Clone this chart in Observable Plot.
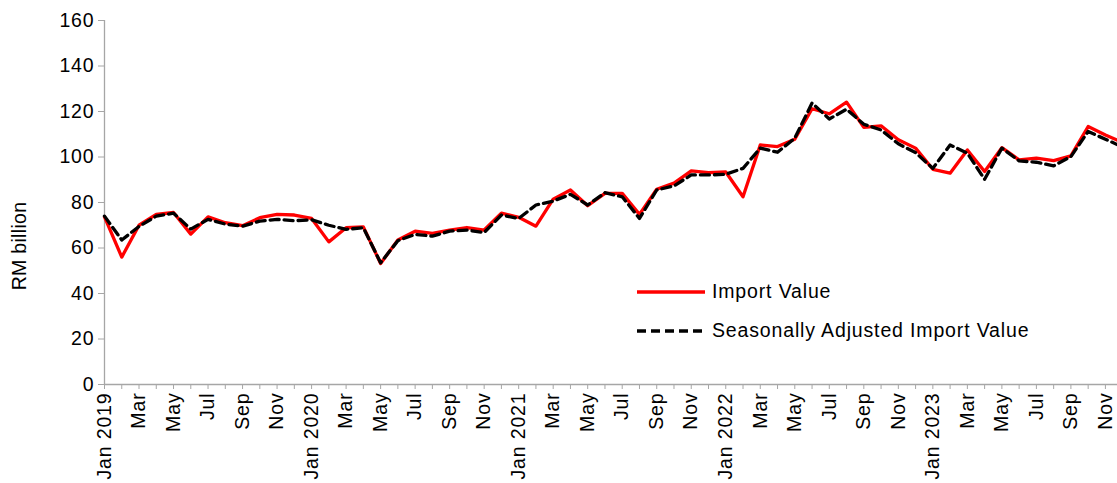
<!DOCTYPE html>
<html><head><meta charset="utf-8">
<script src="https://cdn.jsdelivr.net/npm/d3@7"></script>
<script src="https://cdn.jsdelivr.net/npm/@observablehq/plot@0.6"></script>
<style>
html,body{margin:0;padding:0;background:#fff;overflow:hidden}
#wrap{position:relative;width:1117px;height:483px;font-family:"Liberation Sans",Arial,sans-serif;color:#000;letter-spacing:0.85px}
#wrap svg text{letter-spacing:0.85px}
#ytitle{position:absolute;left:19px;top:246px;transform:translate(-50%,-50%) rotate(-90deg);font-size:19.5px;white-space:nowrap;letter-spacing:0.3px}
#legend{position:absolute;left:637px;top:272px;font-size:19.5px}
.item{display:flex;align-items:center;height:39px;white-space:nowrap}
.item svg{margin-right:7px;display:block}
</style></head><body>
<div id="wrap"><div id="chart"></div><div id="ytitle"></div><div id="legend"></div></div>
<script>
const monthNames = ["Jan","Feb","Mar","Apr","May","Jun","Jul","Aug","Sep","Oct","Nov","Dec"];
const years = [2019, 2020, 2021, 2022, 2023];
const yTicks = [0, 20, 40, 60, 80, 100, 120, 140, 160];
const yTitle = "RM billion";
const seriesNames = ["Import Value", "Seasonally Adjusted Import Value"];
const seriesColors = ["#ff0000", "#000000"];

// Import Value (RM billion), Jan 2019 .. Dec 2023
const importValue = [
  73.7, 56.0, 70.0, 74.8, 75.6, 66.1, 73.7, 71.1, 69.8, 73.3, 74.8, 74.5,
  73.0, 62.7, 68.9, 69.3, 53.2, 63.5, 67.4, 66.4, 67.9, 69.0, 67.9, 75.3,
  73.5, 69.6, 81.5, 85.5, 78.6, 84.0, 84.0, 74.8, 85.8, 88.5, 93.9, 93.1,
  93.4, 82.5, 105.3, 104.6, 107.8, 121.2, 119.0, 124.1, 113.0, 113.7, 107.6, 103.9,
  94.6, 92.9, 103.1, 93.6, 104.1, 98.7, 99.5, 98.4, 100.5, 113.4, 109.7, 106.4
];
// Seasonally Adjusted Import Value (RM billion)
const seasonallyAdjusted = [
  74.0, 63.5, 69.5, 74.0, 75.3, 68.3, 72.6, 70.5, 69.6, 71.8, 72.6, 72.0,
  72.4, 70.0, 68.2, 68.9, 53.5, 63.2, 66.0, 65.2, 67.4, 67.9, 66.8, 74.5,
  73.0, 78.9, 80.6, 83.6, 78.9, 84.3, 82.5, 73.0, 85.5, 87.3, 92.1, 92.1,
  92.4, 95.0, 103.9, 102.1, 108.3, 123.7, 116.7, 121.0, 114.4, 111.9, 105.8, 101.9,
  95.0, 105.3, 101.7, 90.2, 103.9, 98.3, 97.7, 96.1, 100.2, 111.2, 107.8, 104.4
];

const monthLabels = years.flatMap(y => monthNames.map((m, k) => k === 0 ? `${m} ${y}` : m));
const data = monthLabels.map((label, i) => ({i, label, imp: importValue[i], sa: seasonallyAdjusted[i]}));
const axisGray = "#a6a6a6";

const chart = Plot.plot({
  width: 1117, height: 483,
  marginLeft: 104, marginRight: 0, marginTop: 20, marginBottom: 99,
  style: {fontFamily: '"Liberation Sans", Arial, sans-serif', fontSize: "19.5px", color: "#000", background: "#fff"},
  x: {type: "linear", domain: [0, 58.7]},
  y: {domain: [0, 160]},
  marks: [
    Plot.axisY({ticks: yTicks, tickSize: 6, tickPadding: 4, stroke: axisGray, fill: "#000", label: null, tickFormat: d => String(d)}),
    Plot.axisX({ticks: d3.range(0, monthLabels.length), tickFormat: i => i % 2 === 0 ? monthLabels[i] : "", tickRotate: -90, tickSize: 5, tickPadding: 3, stroke: axisGray, fill: "#000", label: null}),
    Plot.ruleX([0], {y1: 0, y2: 160, stroke: axisGray, strokeWidth: 1.3}),
    Plot.ruleY([0], {stroke: axisGray, strokeWidth: 1.3}),
    Plot.line(data, {x: "i", y: "imp", stroke: seriesColors[0], strokeWidth: 3.3, strokeLinejoin: "round"}),
    Plot.line(data, {x: "i", y: "sa", stroke: seriesColors[1], strokeWidth: 3.3, strokeDasharray: "9,5"})
  ]
});
document.getElementById("chart").appendChild(chart);
document.getElementById("ytitle").textContent = yTitle;

const legend = document.getElementById("legend");
seriesNames.forEach((name, k) => {
  const item = document.createElement("div");
  item.className = "item";
  const dash = k === 1 ? ' stroke-dasharray="9,5"' : '';
  item.innerHTML = `<svg width="68" height="8"><line x1="0" y1="4" x2="68" y2="4" stroke="${seriesColors[k]}" stroke-width="3.3"${dash}/></svg><span></span>`;
  item.querySelector("span").textContent = name;
  legend.appendChild(item);
});
</script>
</body></html>
